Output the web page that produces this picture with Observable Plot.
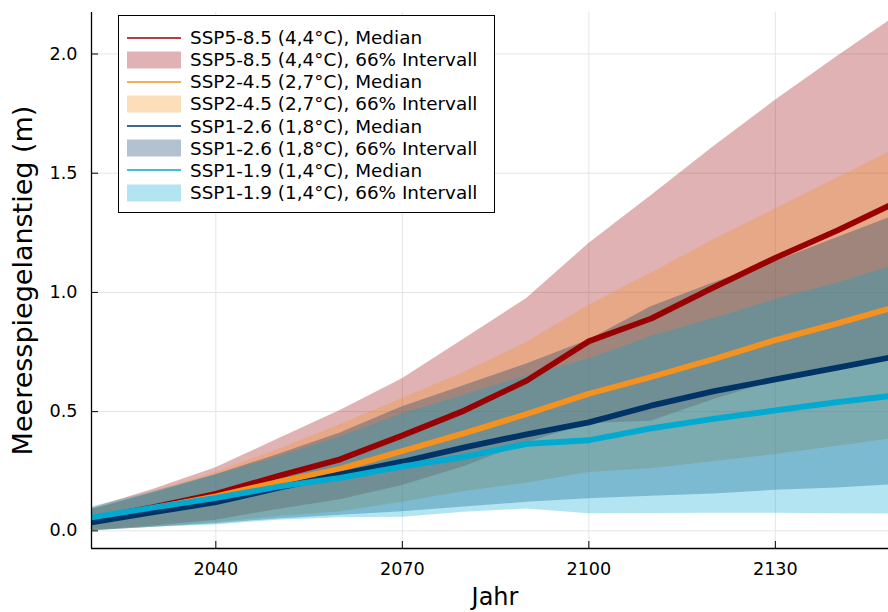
<!DOCTYPE html>
<html>
<head>
<meta charset="utf-8">
<script src="https://cdn.jsdelivr.net/npm/d3@7"></script>
<script src="https://cdn.jsdelivr.net/npm/@observablehq/plot@0.6"></script>
<style>
  html, body { margin: 0; padding: 0; background: #fff; overflow: hidden; }
  #wrap { position: relative; width: 888px; height: 612px; font-family: "DejaVu Sans", sans-serif; }
  #legend { position: absolute; left: 118px; top: 15px; width: 377px; height: 198px; border: 1px solid #000; background: #fff; box-sizing: border-box; padding-top: 10.5px; }
  .row { height: 22.15px; display: flex; align-items: center; font-size: 18.4px; color: #000; white-space: nowrap; }
  .sw { width: 54px; margin-left: 8px; margin-right: 9px; display: flex; align-items: center; justify-content: center; height: 22px; }
</style>
</head>
<body>
<div id="wrap"><div id="chart"></div><div id="legend"></div></div>
<script>
const years = [2020, 2030, 2040, 2050, 2060, 2070, 2080, 2090, 2100, 2110, 2120, 2130, 2140, 2150];

const ssp585Med = [0.05, 0.10, 0.155, 0.23, 0.30, 0.40, 0.505, 0.63, 0.795, 0.89, 1.02, 1.145, 1.26, 1.385];
const ssp585Lo  = [0.0, 0.02, 0.045, 0.09, 0.13, 0.19, 0.27, 0.37, 0.45, 0.46, 0.55, 0.63, 0.69, 0.74];
const ssp585Hi  = [0.095, 0.175, 0.265, 0.385, 0.505, 0.638, 0.806, 0.974, 1.205, 1.405, 1.61, 1.806, 1.99, 2.17];

const ssp245Med = [0.05, 0.095, 0.145, 0.205, 0.26, 0.335, 0.41, 0.49, 0.575, 0.645, 0.72, 0.80, 0.87, 0.945];
const ssp245Lo  = [0.0, 0.015, 0.035, 0.06, 0.08, 0.12, 0.165, 0.20, 0.245, 0.26, 0.29, 0.32, 0.355, 0.39];
const ssp245Hi  = [0.09, 0.165, 0.245, 0.34, 0.445, 0.555, 0.665, 0.79, 0.946, 1.08, 1.22, 1.35, 1.48, 1.61];

const ssp126Med = [0.035, 0.078, 0.12, 0.18, 0.237, 0.29, 0.35, 0.405, 0.455, 0.525, 0.585, 0.635, 0.685, 0.735];
const ssp126Lo  = [0.0, 0.015, 0.03, 0.05, 0.065, 0.08, 0.10, 0.12, 0.135, 0.145, 0.155, 0.17, 0.18, 0.195];
const ssp126Hi  = [0.09, 0.16, 0.235, 0.32, 0.41, 0.52, 0.61, 0.70, 0.80, 0.94, 1.04, 1.13, 1.23, 1.33];

const ssp119Med = [0.056, 0.098, 0.138, 0.185, 0.222, 0.27, 0.31, 0.365, 0.38, 0.43, 0.47, 0.505, 0.54, 0.57];
const ssp119Lo  = [0.0, 0.015, 0.025, 0.045, 0.055, 0.057, 0.078, 0.092, 0.072, 0.073, 0.074, 0.074, 0.072, 0.07];
const ssp119Hi  = [0.10, 0.165, 0.235, 0.31, 0.395, 0.49, 0.57, 0.65, 0.72, 0.815, 0.89, 0.97, 1.04, 1.12];

const scenarioNames = ["SSP5-8.5 (4,4°C)", "SSP2-4.5 (2,7°C)", "SSP1-2.6 (1,8°C)", "SSP1-1.9 (1,4°C)"];
const scenarioColors = ["#990002", "#f5911e", "#003466", "#00aad0"];
const xTicks = [2040, 2070, 2100, 2130];
const yTicks = [0, 0.5, 1.0, 1.5, 2.0];
const xLabel = "Jahr";
const yLabel = "Meeresspiegelanstieg (m)";
const medianSuffix = "Median";
const bandSuffix = "66% Intervall";

const series = [
  [ssp585Med, ssp585Lo, ssp585Hi],
  [ssp245Med, ssp245Lo, ssp245Hi],
  [ssp126Med, ssp126Lo, ssp126Hi],
  [ssp119Med, ssp119Lo, ssp119Hi]
];
const tables = series.map(([med, lo, hi]) => years.map((year, i) => ({year, med: med[i], lo: lo[i], hi: hi[i]})));

const xDomain = [2020, 2148.2];
const yDomain = [-0.074, 2.174];

const gridColor = "#e5e5e5";
const marks = [
  Plot.gridX(xTicks, {stroke: gridColor, strokeOpacity: 1, strokeWidth: 1}),
  Plot.gridY(yTicks, {stroke: gridColor, strokeOpacity: 1, strokeWidth: 1}),
  ...tables.map((t, i) => Plot.areaY(t, {x: "year", y1: "lo", y2: "hi", fill: scenarioColors[i], fillOpacity: 0.3, clip: true, curve: "linear"})),
  ...tables.map((t, i) => Plot.lineY(t, {x: "year", y: "med", stroke: scenarioColors[i], strokeWidth: 5.8, clip: true, curve: "linear", strokeLinejoin: "round"})),
  Plot.ruleX([xDomain[0]], {stroke: "#000", strokeWidth: 1.3}),
  Plot.ruleY([yDomain[0]], {stroke: "#000", strokeWidth: 1.3}),
  Plot.axisX(xTicks, {tickSize: -7, tickPadding: 21, fontSize: 17.6, tickFormat: d => String(d), label: null, stroke: "#000"}),
  Plot.axisY(yTicks, {tickSize: -7, tickPadding: 21, fontSize: 17.6, tickFormat: d3.format(".1f"), label: null, stroke: "#000"}),
  Plot.text([xLabel], {text: d => d, frameAnchor: "bottom", dy: 49, dx: 5, fontSize: 24, textAnchor: "middle", lineAnchor: "middle", fill: "#000"}),
  Plot.text([yLabel], {text: d => d, frameAnchor: "left", dx: -68, rotate: -90, fontSize: 27, textAnchor: "middle", lineAnchor: "middle", fill: "#000"})
];

const chart = Plot.plot({
  width: 888,
  height: 612,
  marginLeft: 91,
  marginRight: 0,
  marginTop: 12,
  marginBottom: 64,
  style: {fontFamily: "DejaVu Sans, sans-serif", background: "#fff", color: "#000"},
  x: {domain: xDomain, axis: null},
  y: {domain: yDomain, axis: null},
  marks
});
document.getElementById("chart").appendChild(chart);

// legend
const legend = document.getElementById("legend");
const ns = "http://www.w3.org/2000/svg";
scenarioNames.forEach((name, i) => {
  [[medianSuffix, "line"], [bandSuffix, "band"]].forEach(([suffix, kind]) => {
    const row = document.createElement("div");
    row.className = "row";
    const sw = document.createElement("div");
    sw.className = "sw";
    const s = document.createElementNS(ns, "svg");
    s.setAttribute("width", 54); s.setAttribute("height", 18);
    if (kind === "line") {
      const l = document.createElementNS(ns, "line");
      l.setAttribute("x1", 0); l.setAttribute("x2", 54); l.setAttribute("y1", 9); l.setAttribute("y2", 9);
      l.setAttribute("stroke", scenarioColors[i]); l.setAttribute("stroke-width", 1.6);
      s.appendChild(l);
    } else {
      const r = document.createElementNS(ns, "rect");
      r.setAttribute("x", 0); r.setAttribute("y", 0.5); r.setAttribute("width", 54); r.setAttribute("height", 17);
      r.setAttribute("fill", scenarioColors[i]); r.setAttribute("fill-opacity", 0.3);
      s.appendChild(r);
    }
    sw.appendChild(s);
    const txt = document.createElement("span");
    txt.textContent = `${name}, ${suffix}`;
    row.appendChild(sw); row.appendChild(txt);
    legend.appendChild(row);
  });
});
</script>
</body>
</html>
